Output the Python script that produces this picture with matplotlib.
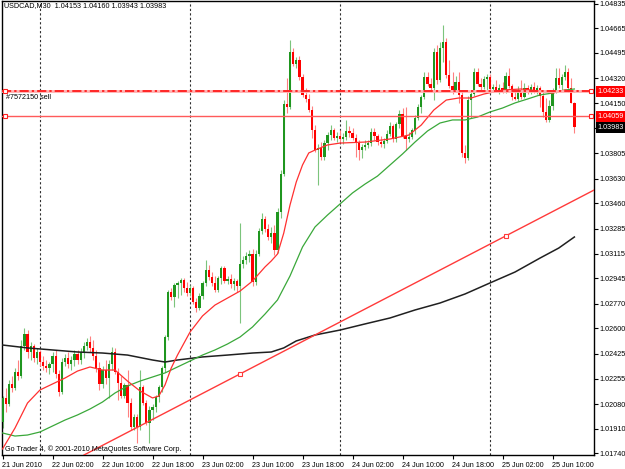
import matplotlib
matplotlib.use("Agg")
import matplotlib.pyplot as plt
from matplotlib.patches import Rectangle
from matplotlib import font_manager
import numpy as np

# ---------------- data (USDCAD M30, bar 0 = 21 Jun 2010 18:00) ----------------
opens = [1.01956, 1.02122, 1.02080, 1.02218, 1.02190, 1.02300, 1.02273, 1.02479, 1.02562, 1.02438,
         1.02479, 1.02397, 1.02438, 1.02369, 1.02342, 1.02328, 1.02355, 1.02410, 1.02287, 1.02163,
         1.02369, 1.02397, 1.02355, 1.02383, 1.02424, 1.02383, 1.02438, 1.02479, 1.02507, 1.02466,
         1.02410, 1.02328, 1.02218, 1.02314, 1.02259, 1.02355, 1.02438, 1.02300, 1.02225, 1.02135,
         1.02211, 1.02087, 1.01922, 1.01991, 1.01922, 1.02197, 1.02087, 1.01950, 1.02039, 1.02060,
         1.02128, 1.02197, 1.02328, 1.02541, 1.02851, 1.02816, 1.02899, 1.02913, 1.02933, 1.02878,
         1.02844, 1.02878, 1.02782, 1.02741, 1.02823, 1.02913, 1.03002, 1.02954, 1.02913, 1.02864,
         1.02947, 1.03016, 1.02926, 1.02940, 1.02906, 1.02926, 1.02892, 1.03043, 1.03071, 1.03098,
         1.03112, 1.02919, 1.03112, 1.03270, 1.03353, 1.03284, 1.03229, 1.03256, 1.03139, 1.03401,
         1.03662, 1.04144, 1.04123, 1.04501, 1.04419, 1.04446, 1.04329, 1.04206, 1.04178, 1.04102,
         1.03965, 1.03827, 1.03841, 1.03779, 1.03875, 1.03930, 1.03965, 1.03910, 1.03924, 1.03903,
         1.03917, 1.03958, 1.03944, 1.03910, 1.03875, 1.03827, 1.03848, 1.03862, 1.03875, 1.03951,
         1.03924, 1.03882, 1.03869, 1.03889, 1.03937, 1.03992, 1.03903, 1.04006, 1.04075, 1.03924,
         1.03903, 1.03917, 1.03965, 1.04047, 1.04123, 1.04192, 1.04329, 1.04281, 1.04254, 1.04501,
         1.04309, 1.04529, 1.04570, 1.04343, 1.04267, 1.04240, 1.04295, 1.04206, 1.03807, 1.03772,
         1.04171, 1.04212, 1.04364, 1.04281, 1.04261, 1.04316, 1.04329, 1.04247, 1.04261, 1.04240,
         1.04254, 1.04233, 1.04336, 1.04267, 1.04192, 1.04178, 1.04240, 1.04192, 1.04254, 1.04226,
         1.04261, 1.04240, 1.04254, 1.04199, 1.04089, 1.04034, 1.04130, 1.04233, 1.04323, 1.04274,
         1.04329, 1.04364, 1.04254, 1.04153]
highs = [1.02135, 1.02190, 1.02245, 1.02273, 1.02328, 1.02383, 1.02520, 1.02603, 1.02589, 1.02507,
         1.02493, 1.02466, 1.02452, 1.02410, 1.02383, 1.02369, 1.02438, 1.02452, 1.02314, 1.02397,
         1.02424, 1.02438, 1.02410, 1.02452, 1.02452, 1.02466, 1.02507, 1.02534, 1.02548, 1.02520,
         1.02452, 1.02369, 1.02342, 1.02383, 1.02383, 1.02472, 1.02466, 1.02328, 1.02273, 1.02225,
         1.02314, 1.02122, 1.02012, 1.02012, 1.02314, 1.02211, 1.02108, 1.02067, 1.02080, 1.02142,
         1.02211, 1.02342, 1.02555, 1.02864, 1.02878, 1.02913, 1.02926, 1.02947, 1.02947, 1.02919,
         1.02899, 1.02892, 1.02809, 1.02844, 1.02926, 1.03071, 1.03036, 1.02988, 1.02961, 1.02961,
         1.03030, 1.03030, 1.02961, 1.02974, 1.02947, 1.02940, 1.03325, 1.03098, 1.03126, 1.03139,
         1.03146, 1.03139, 1.03291, 1.03394, 1.03373, 1.03318, 1.03298, 1.03311, 1.03428, 1.03690,
         1.04171, 1.04323, 1.04584, 1.04529, 1.04467, 1.04474, 1.04350, 1.04254, 1.04212, 1.04130,
         1.03999, 1.03869, 1.03882, 1.03896, 1.03951, 1.03999, 1.03979, 1.03951, 1.03965, 1.03944,
         1.04034, 1.03992, 1.03979, 1.03937, 1.03896, 1.03869, 1.03896, 1.03896, 1.03979, 1.03979,
         1.03937, 1.03924, 1.03910, 1.03965, 1.04020, 1.04006, 1.04020, 1.04102, 1.04116, 1.04123,
         1.03951, 1.03979, 1.04068, 1.04144, 1.04206, 1.04364, 1.04364, 1.04323, 1.04529, 1.04549,
         1.04570, 1.04687, 1.04598, 1.04446, 1.04364, 1.04336, 1.04364, 1.04240, 1.03862, 1.04199,
         1.04240, 1.04391, 1.04391, 1.04323, 1.04336, 1.04350, 1.04350, 1.04281, 1.04309, 1.04281,
         1.04295, 1.04364, 1.04391, 1.04281, 1.04247, 1.04267, 1.04309, 1.04288, 1.04274, 1.04281,
         1.04295, 1.04274, 1.04267, 1.04226, 1.04185, 1.04171, 1.04254, 1.04391, 1.04391, 1.04350,
         1.04412, 1.04391, 1.04323, 1.04160]
lows = [1.01915, 1.02025, 1.02067, 1.02163, 1.02177, 1.02245, 1.02259, 1.02452, 1.02397, 1.02383,
        1.02369, 1.02355, 1.02342, 1.02314, 1.02300, 1.02287, 1.02300, 1.02259, 1.02135, 1.02149,
        1.02342, 1.02328, 1.02314, 1.02342, 1.02355, 1.02355, 1.02397, 1.02452, 1.02438, 1.02383,
        1.02300, 1.02177, 1.02190, 1.02218, 1.02122, 1.02314, 1.02287, 1.02108, 1.02122, 1.02122,
        1.01991, 1.01901, 1.01901, 1.01812, 1.01901, 1.02073, 1.01936, 1.01812, 1.01970, 1.02025,
        1.02094, 1.02163, 1.02300, 1.02520, 1.02796, 1.02747, 1.02809, 1.02830, 1.02851, 1.02823,
        1.02823, 1.02768, 1.02713, 1.02727, 1.02802, 1.02892, 1.02933, 1.02892, 1.02851, 1.02851,
        1.02906, 1.02913, 1.02906, 1.02878, 1.02864, 1.02851, 1.02637, 1.03016, 1.03043, 1.03057,
        1.02892, 1.02899, 1.03098, 1.03250, 1.03263, 1.03208, 1.03188, 1.03105, 1.03119, 1.03360,
        1.03648, 1.04082, 1.04109, 1.04405, 1.04391, 1.04309, 1.04192, 1.04157, 1.04089, 1.03910,
        1.03814, 1.03587, 1.03759, 1.03759, 1.03827, 1.03896, 1.03896, 1.03882, 1.03882, 1.03869,
        1.03896, 1.03917, 1.03896, 1.03779, 1.03759, 1.03772, 1.03827, 1.03841, 1.03855, 1.03896,
        1.03862, 1.03848, 1.03841, 1.03875, 1.03924, 1.03882, 1.03882, 1.03979, 1.03910, 1.03827,
        1.03882, 1.03903, 1.03937, 1.04034, 1.04082, 1.04178, 1.04267, 1.04226, 1.04171, 1.04281,
        1.04295, 1.04433, 1.04323, 1.04254, 1.04212, 1.04226, 1.04151, 1.03779, 1.03738, 1.03759,
        1.04047, 1.04199, 1.04267, 1.04240, 1.04247, 1.04240, 1.04226, 1.04226, 1.04226, 1.04212,
        1.04219, 1.04219, 1.04254, 1.04171, 1.04171, 1.04164, 1.04178, 1.04185, 1.04212, 1.04212,
        1.04219, 1.04212, 1.04123, 1.04054, 1.04020, 1.04020, 1.04102, 1.04219, 1.04254, 1.04240,
        1.04309, 1.04226, 1.04151, 1.03943]
closes = [1.02122, 1.02080, 1.02218, 1.02190, 1.02300, 1.02273, 1.02479, 1.02562, 1.02438, 1.02479,
          1.02397, 1.02438, 1.02369, 1.02342, 1.02328, 1.02355, 1.02410, 1.02287, 1.02163, 1.02369,
          1.02397, 1.02355, 1.02383, 1.02424, 1.02383, 1.02438, 1.02479, 1.02507, 1.02466, 1.02410,
          1.02328, 1.02218, 1.02314, 1.02259, 1.02355, 1.02438, 1.02300, 1.02225, 1.02135, 1.02211,
          1.02087, 1.01922, 1.01991, 1.01922, 1.02197, 1.02087, 1.01950, 1.02039, 1.02060, 1.02128,
          1.02197, 1.02328, 1.02541, 1.02851, 1.02816, 1.02899, 1.02913, 1.02933, 1.02878, 1.02844,
          1.02878, 1.02782, 1.02741, 1.02823, 1.02913, 1.03002, 1.02954, 1.02913, 1.02864, 1.02947,
          1.03016, 1.02926, 1.02940, 1.02906, 1.02926, 1.02892, 1.03043, 1.03071, 1.03098, 1.03112,
          1.02919, 1.03112, 1.03270, 1.03353, 1.03284, 1.03229, 1.03256, 1.03139, 1.03401, 1.03662,
          1.04144, 1.04123, 1.04501, 1.04419, 1.04446, 1.04329, 1.04206, 1.04178, 1.04102, 1.03965,
          1.03827, 1.03841, 1.03779, 1.03875, 1.03930, 1.03965, 1.03910, 1.03924, 1.03903, 1.03917,
          1.03958, 1.03944, 1.03910, 1.03875, 1.03827, 1.03848, 1.03862, 1.03875, 1.03951, 1.03924,
          1.03882, 1.03869, 1.03889, 1.03937, 1.03992, 1.03903, 1.04006, 1.04075, 1.03924, 1.03903,
          1.03917, 1.03965, 1.04047, 1.04123, 1.04192, 1.04329, 1.04281, 1.04254, 1.04501, 1.04309,
          1.04529, 1.04570, 1.04343, 1.04267, 1.04240, 1.04295, 1.04206, 1.03807, 1.03772, 1.04171,
          1.04212, 1.04364, 1.04281, 1.04261, 1.04316, 1.04329, 1.04247, 1.04261, 1.04240, 1.04254,
          1.04233, 1.04336, 1.04267, 1.04192, 1.04178, 1.04240, 1.04192, 1.04254, 1.04226, 1.04261,
          1.04240, 1.04254, 1.04199, 1.04089, 1.04034, 1.04130, 1.04233, 1.04323, 1.04274, 1.04329,
          1.04364, 1.04254, 1.04153, 1.03983]

# moving averages (bar index, price)
ma_fast_bars = [0, 4, 8, 12, 16, 20, 24, 28, 32, 36, 40, 44, 48, 50, 52, 54, 56, 60, 64, 68, 72, 76,
                80, 84, 86, 88, 90, 92, 94, 96, 98, 100, 104, 108, 116, 124, 130, 134, 138, 142, 146,
                150, 154, 160, 166, 172, 176, 180, 183]
ma_fast_vals = [1.01771, 1.01915, 1.02087, 1.02177, 1.02218, 1.02259, 1.02307, 1.02335, 1.02314,
                1.02314, 1.02238, 1.02170, 1.02122, 1.02135, 1.02211, 1.02328, 1.02417, 1.02575,
                1.02686, 1.02761, 1.02809, 1.02857, 1.02926, 1.03023, 1.03064, 1.03112, 1.03256,
                1.03449, 1.03607, 1.03724, 1.03807, 1.03827, 1.03862, 1.03875, 1.03882, 1.03903,
                1.03930, 1.03999, 1.04102, 1.04171, 1.04185, 1.04185, 1.04212, 1.04240, 1.04247,
                1.04233, 1.04219, 1.04240, 1.04226]
ma_mid_bars = [0, 4, 8, 12, 16, 20, 24, 28, 32, 36, 40, 44, 48, 52, 56, 60, 64, 68, 72, 76, 80, 84,
               88, 92, 96, 100, 104, 108, 112, 116, 120, 124, 128, 132, 136, 140, 144, 148, 152, 156,
               160, 164, 168, 172, 176, 180, 183]
ma_mid_vals = [1.01881, 1.01860, 1.01867, 1.01888, 1.01929, 1.01970, 1.02005, 1.02046, 1.02094,
               1.02156, 1.02204, 1.02238, 1.02266, 1.02294, 1.02335, 1.02376, 1.02417, 1.02452,
               1.02493, 1.02541, 1.02610, 1.02699, 1.02796, 1.02961, 1.03160, 1.03298, 1.03380,
               1.03456, 1.03532, 1.03593, 1.03648, 1.03724, 1.03800, 1.03882, 1.03958, 1.04013,
               1.04034, 1.04034, 1.04054, 1.04089, 1.04116, 1.04151, 1.04178, 1.04206, 1.04219,
               1.04240, 1.04247]
ma_slow_bars = [0, 8, 16, 24, 32, 40, 48, 52, 56, 64, 72, 80, 86, 90, 94, 100, 108, 116, 124, 132,
                140, 148, 156, 164, 172, 178, 183]
ma_slow_vals = [1.02486, 1.02466, 1.02452, 1.02438, 1.02431, 1.02417, 1.02383, 1.02369, 1.02383,
                1.02404, 1.02417, 1.02431, 1.02438, 1.02466, 1.02514, 1.02555, 1.02589, 1.02631,
                1.02672, 1.02727, 1.02775, 1.02837, 1.02913, 1.02988, 1.03084, 1.03153, 1.03229]

trend_bars = [76, 161]
trend_prices = [1.02287, 1.03236]
order_price = 1.04233
level_price = 1.04059
last_price = 1.03983
day_separators = [12, 60, 108, 156]

price_ticks = [1.04835, 1.04665, 1.04495, 1.04320, 1.04150, 1.03980, 1.03805, 1.03630, 1.03460,
               1.03285, 1.03115, 1.02945, 1.02770, 1.02600, 1.02425, 1.02255, 1.02080, 1.01910,
               1.01740]
hidden_tick = 1.03980   # covered by the current-price box
time_tick_bars = [0, 16, 32, 48, 64, 80, 96, 112, 128, 144, 160, 176]
time_tick_labels = ["21 Jun 2010", "22 Jun 02:00", "22 Jun 10:00", "22 Jun 18:00", "23 Jun 02:00",
                    "23 Jun 10:00", "23 Jun 18:00", "24 Jun 02:00", "24 Jun 10:00", "24 Jun 18:00",
                    "25 Jun 02:00", "25 Jun 10:00"]
header = "USDCAD,M30  1.04153 1.04160 1.03943 1.03983"

# ---------------- layout ----------------
names = {f.name for f in font_manager.fontManager.ttflist}
if 'Liberation Sans Narrow' in names:
    FAM = ['Liberation Sans Narrow', 'DejaVu Sans']
    FS = 6.4
else:
    FAM = ['Liberation Sans', 'DejaVu Sans']
    FS = 5.2
plt.rcParams['font.family'] = FAM

W, H = 625, 469
fig = plt.figure(figsize=(W / 100, H / 100), dpi=100)
fig.patch.set_facecolor('white')
Lp, Rp, Tp, Bp = 2, 594, 1, 455
ax = fig.add_axes([Lp / W, 1 - Bp / H, (Rp - Lp) / W, (Bp - Tp) / H])
PXB = 3.125          # pixels per bar
X0 = 2.5             # pixel of bar 0
PP = 0.00006878      # price per pixel
ax.set_xlim((Lp - X0) / PXB, (Rp - X0) / PXB)
ax.set_ylim(1.04835 - (Bp - 3.5) * PP, 1.04835 + (3.5 - Tp) * PP)
ax.set_facecolor('white')
for s in ax.spines.values():
    s.set_color('#000000')
    s.set_linewidth(1.0)

# day separators
for b in day_separators:
    ax.axvline(b, color='#303030', lw=0.8, ls=(0, (2, 2)), zorder=1)

# candles
o, h, l, c = map(np.array, (opens, highs, lows, closes))
idx = np.arange(len(c))
up = c >= o
ax.vlines(idx[up], l[up], h[up], color='#7cc47c', lw=0.8, zorder=2)
ax.vlines(idx[~up], l[~up], h[~up], color='#ff8080', lw=0.8, zorder=2)
body = np.maximum(np.abs(c - o), PP)
bot = np.minimum(o, c)
ax.bar(idx[up], body[up], bottom=bot[up], width=0.72, color='#1f961f', linewidth=0, zorder=3)
ax.bar(idx[~up], body[~up], bottom=bot[~up], width=0.72, color='#ff0000', linewidth=0, zorder=3)

# moving averages
ax.plot(ma_slow_bars, ma_slow_vals, color='#202020', lw=1.1, zorder=4)
ax.plot(ma_mid_bars, ma_mid_vals, color='#3aa83a', lw=0.9, zorder=4)
ax.plot(ma_fast_bars, ma_fast_vals, color='#ff3030', lw=0.9, zorder=4)

# trend line
ax.axline((trend_bars[0], trend_prices[0]), (trend_bars[1], trend_prices[1]),
          color='#ff3a3a', lw=1.0, zorder=4)
ax.plot(trend_bars, trend_prices, ls='none', marker='s', ms=3.2, mfc='white', mec='#ff3a3a',
        mew=0.8, zorder=5)

# order / level lines
xl, xr = ax.get_xlim()
ax.axhline(order_price, color='#ffb0b0', lw=2.0, zorder=4)
ax.axhline(order_price, color='#ff0000', lw=1.1, ls=(0, (6, 2, 1.5, 2)), zorder=4)
ax.axhline(level_price, color='#ff5a5a', lw=1.0, zorder=4)
for p in (order_price, level_price):
    ax.plot([xl + 0.9, xr - 0.9], [p, p], ls='none', marker='s', ms=3.2, mfc='white',
            mec='#ff2020', mew=0.8, zorder=5, clip_on=False)
ax.text(xl + 1.2, order_price - 2.5 * PP, "#7572150 sell", fontsize=FS, color='black',
        va='top', ha='left', zorder=6)

# axes ticks
ax.yaxis.tick_right()
ax.set_yticks(price_ticks)
ax.set_yticklabels(["" if v == hidden_tick else f"{v:.5f}" for v in price_ticks])
ax.set_xticks(time_tick_bars)
ax.set_xticklabels(time_tick_labels, ha='left')
ax.tick_params(axis='y', direction='out', length=3, width=0.8, pad=1.0, labelsize=FS, colors='black')
ax.tick_params(axis='x', direction='out', length=3, width=0.8, pad=2.0, labelsize=FS, colors='black')
for lab in ax.get_xticklabels():
    lab.set_horizontalalignment('left')

# price boxes on the right axis
ytr = ax.get_yaxis_transform()
axw = Rp - Lp
bh = 5.5 * PP
for p, fc in ((order_price, '#ff0000'), (level_price, '#ff0000'), (last_price, '#000000')):
    ax.add_patch(Rectangle((1.0 + 1.5 / axw, p - bh), 29.5 / axw, 2 * bh, transform=ytr,
                           facecolor=fc, edgecolor='none', clip_on=False, zorder=10))
    ax.text(1.0 + 3.0 / axw, p, f"{p:.5f}", transform=ytr, color='white', fontsize=FS,
            va='center', ha='left', zorder=11, clip_on=False)

# header and copyright texts
fig.text(4 / W, 1 - 2 / H, header, fontsize=FS, va='top', ha='left', color='black')
fig.text(5 / W, 1 - 451 / H, "Go Trader 4, \u00a9 2001-2010 MetaQuotes Software Corp.",
         fontsize=FS, va='baseline', ha='left', color='black')

fig.savefig("out.png", dpi=100, facecolor='white')
